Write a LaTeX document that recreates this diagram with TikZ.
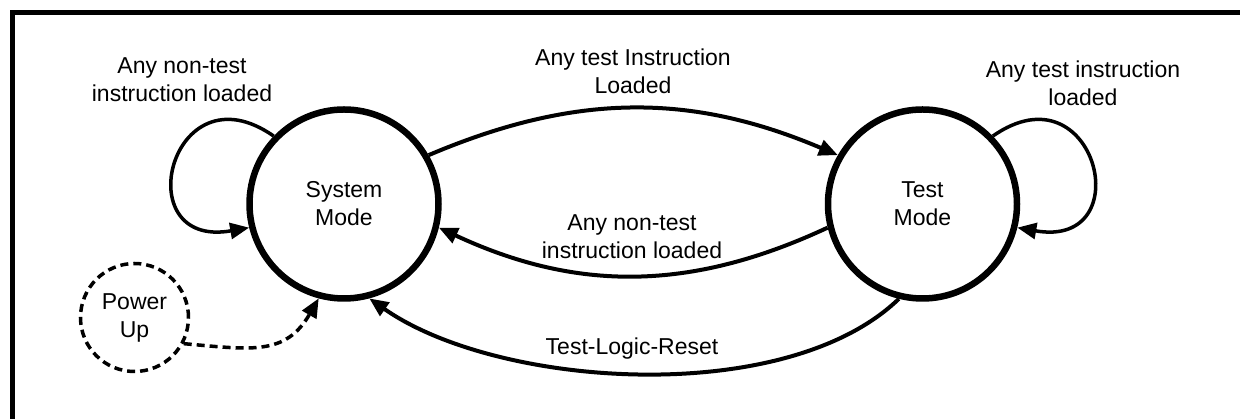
\documentclass[tikz,border=0pt]{standalone}
\usepackage{fontspec}
\setmainfont{Liberation Sans}
\usetikzlibrary{arrows.meta}
\begin{document}
\begin{tikzpicture}[x=1pt,y=1pt,
  every node/.style={font=\fontsize{23}{28}\selectfont},
  state/.style={circle, draw, line width=6.5pt, minimum size=189pt, inner sep=0pt, align=center},
  startstate/.style={circle, draw, line width=3.5pt, dash pattern=on 8pt off 5pt,
    minimum size=108pt, inner sep=0pt, align=center},
  trans/.style={line width=4pt, -{Triangle[length=19pt,width=16pt]}},
  selfloop/.style={trans, line width=3.5pt},
  poweron/.style={trans, line width=3.5pt, dash pattern=on 8pt off 5pt},
  lbl/.style={align=center, inner sep=0pt}
]
\useasboundingbox (0,0) rectangle (1240,419);

% outer frame
\draw[line width=5pt, line join=miter] (12.5,-10) -- (12.5,406.8) -- (1250,406.8);

% states
\node[state] (sys) at (344,215) {System\\Mode};
\node[state] (test) at (922.5,215) {Test\\Mode};
\node[startstate] (pwr) at (134.5,101.5) {Power\\Up};

% transition labels
\node[lbl] (lSysLoop) at (182,339) {Any non-test\\instruction loaded};
\node[lbl] (lTestLoop) at (1083,335.5) {Any test instruction\\loaded};
\node[lbl] (lTop) at (633,348) {Any test Instruction\\Loaded};
\node[lbl] (lMid) at (632,182.5) {Any non-test\\instruction loaded};
\node[lbl] (lReset) at (632,70) {Test-Logic-Reset};

% transitions
\draw[trans] (sys.30) to[bend left=23] (test.150);
\draw[trans] (test.194) to[bend left=25] (sys.-14);
\draw[trans] (test.256) to[out=224,in=325,looseness=0.76] (sys.285);
\draw[selfloop] (sys.136) to[out=145,in=190,looseness=3.4] (sys.194);
\draw[selfloop] (test.44) to[out=35,in=-10,looseness=3.4] (test.346);
\draw[poweron] (pwr.-28) to[out=-5,in=240,looseness=1.2] (sys.255);
\end{tikzpicture}
\end{document}
